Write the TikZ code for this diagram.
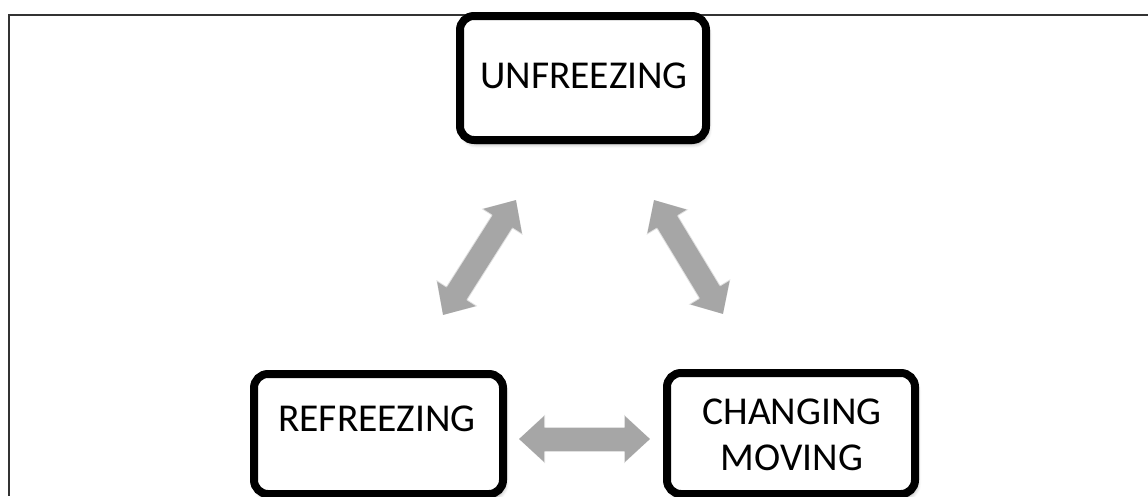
\documentclass[tikz,border=0pt]{standalone}
\usepackage{fontspec}
\setmainfont{Carlito}
\usetikzlibrary{arrows.meta,shadows.blur}
\definecolor{arrowgray}{HTML}{A6A6A6}
\definecolor{framegray}{HTML}{333333}
\tikzset{
  stagebox/.style={draw=black, fill=white, line width=8pt, rounded corners=14pt,
    inner sep=0pt, blur shadow={shadow xshift=2pt, shadow yshift=-4pt,
    shadow blur steps=6, shadow blur radius=4pt, shadow opacity=35}},
  stagetext/.style={font=\fontsize{39.5}{46}\selectfont, align=center, inner sep=0pt},
  fatarrow/.style={draw=arrowgray, line width=23pt, line cap=butt,
    {Triangle[length=25pt,width=44pt]}-{Triangle[length=25pt,width=44pt]}},
  fatshadow/.style={draw=black, opacity=0.12, line width=25pt, line cap=butt,
    {Triangle[length=26pt,width=47pt]}-{Triangle[length=26pt,width=47pt]}}
}
\begin{document}
\begin{tikzpicture}[x=1pt,y=-1pt]
  \useasboundingbox (0,0) rectangle (1148,496);
  \clip (0,0) rectangle (1148,496);
  % open frame: top and left edges
  \coordinate (frameTL) at (9,15);
  \coordinate (frameTR) at (1148,15);
  \coordinate (frameBL) at (9,496);
  \draw[framegray, line width=2.5pt] (frameTR) -- (frameTL) -- (frameBL);

  % the three stages
  \node[stagebox, minimum width=246pt, minimum height=124pt] (unfreeze) at (583,78) {};
  \node[stagetext] (unfreezeT) at (584,76) {UNFREEZING};
  \node[stagebox, minimum width=249pt, minimum height=120pt] (refreeze) at (378.5,434) {};
  \node[stagetext] (refreezeT) at (377,419) {REFREEZING};
  \node[stagebox, minimum width=248pt, minimum height=121pt] (change) at (791,433.5) {};
  \node[stagetext] (changeT) at (792,435) {CHANGING\\MOVING};

  % arrow end points between the stages
  \coordinate (lTop) at (516,200);
  \coordinate (lBot) at (443,315);
  \coordinate (rTop) at (654,200);
  \coordinate (rBot) at (723,314);
  \coordinate (hLeft) at (519,439);
  \coordinate (hRight) at (650,439);

  % soft shadows under the arrows
  \begin{scope}[shift={(3,4)}]
    \draw[fatshadow] (lTop) -- (lBot);
    \draw[fatshadow] (rTop) -- (rBot);
    \draw[fatshadow] (hLeft) -- (hRight);
  \end{scope}
  % two-way arrows
  \draw[fatarrow] (lTop) -- (lBot);
  \draw[fatarrow] (rTop) -- (rBot);
  \draw[fatarrow] (hLeft) -- (hRight);
\end{tikzpicture}
\end{document}
